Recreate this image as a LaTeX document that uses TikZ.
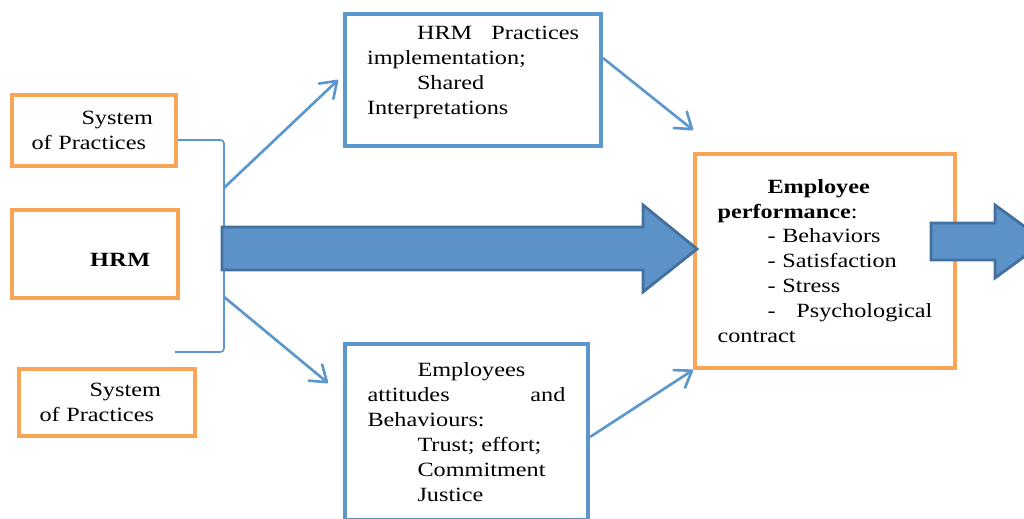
\documentclass[tikz,border=0pt]{standalone}
\usepackage{fontspec}
\setmainfont{Liberation Serif}[FakeStretch=1.2]
\usepackage{tikz}
\usetikzlibrary{arrows.meta,calc}
\definecolor{hrmorange}{RGB}{248,165,88}
\definecolor{hrmblue}{RGB}{91,150,205}
\definecolor{fatfill}{RGB}{92,146,199}
\definecolor{fatedge}{RGB}{66,113,158}
\newcommand{\wfill}{\hskip 0pt plus 1filll}
\tikzset{
  txt/.style={font=\fontsize{11.5pt}{14.2pt}\selectfont, align=left, inner sep=0pt},
  obox/.style={txt, draw=hrmorange, line width=2.3pt, text width=2.5cm},
  bbox/.style={txt, draw=hrmblue, line width=2.3pt},
  link/.style={hrmblue, line width=1.5pt, -{Straight Barb[length=3mm,width=4.2mm,round]}},
  brace/.style={hrmblue, line width=0.9pt, rounded corners=2pt},
  fat/.style={draw=fatedge, fill=fatfill, line width=1.6pt},
}
\begin{document}
\begin{tikzpicture}[x=0.02cm, y=-0.02cm]
  \useasboundingbox (0,0) rectangle (1024,519);
  \clip (0,0) rectangle (1024,519);

  \node[obox, minimum width=3.28cm, minimum height=1.42cm] (sys1) at (94,130.5)
    {\hspace*{1cm}System\\of Practices};
  \node[obox, minimum width=3.32cm, minimum height=1.76cm, text height=0.52cm, text depth=0cm] (hrm) at (95,254)
    {\hspace*{1.15cm}\textbf{H\kern0.3pt R\kern0.3pt M}};
  \node[obox, minimum width=3.52cm, minimum height=1.34cm, text width=2.7cm] (sys2) at (107,402.5)
    {\hspace*{1cm}System\\of Practices};

  \node[bbox, minimum width=5.12cm, minimum height=2.64cm, text width=4.24cm, text height=0.28cm, text depth=1.88cm] (impl) at (473,80)
    {\hspace*{1cm}HRM\wfill Practices\\
     implementation;\\
     \hspace*{1cm}Shared\\
     Interpretations};
  \node[bbox, minimum width=4.86cm, minimum height=3.52cm, text width=3.96cm] (emp) at (466.5,432)
    {\hspace*{1cm}Employees\\
     attitudes\wfill and\\
     Behaviours:\\
     \hspace*{1cm}Trust; effort;\\
     \hspace*{1cm}Commitment\\
     \hspace*{1cm}Justice};
  \node[obox, minimum width=5.2cm, minimum height=4.28cm, text width=4.3cm] (perf) at (825,261)
    {\hspace*{1cm}\textbf{Employee}\\
     \textbf{performance}:\\
     \hspace*{1cm}- Behaviors\\
     \hspace*{1cm}- Satisfaction\\
     \hspace*{1cm}- Stress\\
     \hspace*{1cm}-\wfill Psychological\\
     contract};

  \coordinate (brtop) at (224,140);
  \coordinate (brbot) at (224,352);
  \coordinate (brend) at (175,352);
  \draw[brace] ([yshift=-1.9mm]sys1.east) -- (brtop) -- (brbot) -- (brend);

  \draw[link] ($(brtop)!0.226!(brbot)$) -- ([xshift=-1mm]impl.west);
  \draw[link] ($(brtop)!0.74!(brbot)$) -- ([xshift=-3mm,yshift=-8.2mm]emp.north west);
  \draw[link] ([yshift=4.4mm]impl.east) -- ([yshift=4.4mm]perf.north west);
  \draw[link] ([yshift=-1mm]emp.east) -- (perf.south west);

  \draw[fat] (222,227) -- (643,227) -- (643,205) -- ($(perf.west)+(4,-12)$)
    -- (643,292) -- (643,270) -- (222,270) -- cycle;
  \draw[fat] (931,223) -- (995,223) -- (995,205) -- (1045,241.5)
    -- (995,278) -- (995,260) -- (931,260) -- cycle;
\end{tikzpicture}
\end{document}
